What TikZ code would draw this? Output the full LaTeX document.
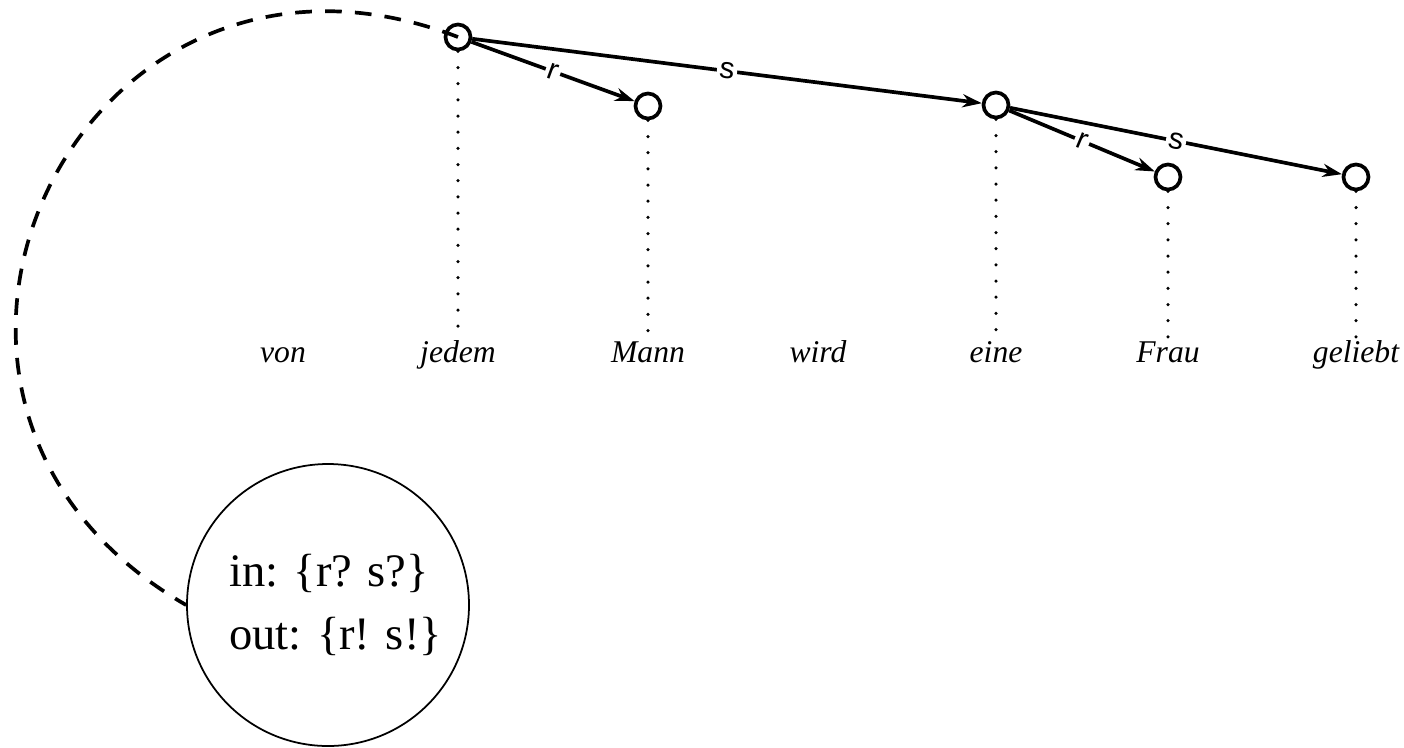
\documentclass[tikz,border=0pt]{standalone}
\usepackage{fontspec}
\setmainfont{Liberation Serif}
\setsansfont{Liberation Sans}
\usepackage{tikz}
\usetikzlibrary{arrows.meta, positioning}
\tikzset{
  tnode/.style={circle, draw, line width=2.1pt, minimum size=0.5cm, inner sep=0pt},
  word/.style={anchor=base, inner sep=1pt, font=\fontsize{18}{20}\selectfont\itshape},
  infobox/.style={circle, draw, line width=1pt, minimum size=5.64cm,
    align=left, font=\fontsize{26.5}{36}\selectfont},
  arrow/.style={-{Stealth[length=11pt, width=7.5pt]}, line width=2.1pt},
  lbl/.style={midway, sloped, fill=white, inner sep=1.5pt,
    font=\sffamily\fontsize{17}{19}\selectfont},
  proj/.style={line width=2pt, line cap=round, dash pattern=on 0pt off 9.2pt},
  loopline/.style={line width=2.1pt, dash pattern=on 9.5pt off 7.5pt}
}
\begin{document}
\begin{tikzpicture}
  \useasboundingbox (0,0) rectangle (28.08,-14.94);

  % Words
  \node[word] (wvon) at (5.66,-7.24) {von};
  \node[word] (wjedem) at (9.16,-7.24) {jedem};
  \node[word] (wmann) at (12.96,-7.24) {Mann};
  \node[word] (wwird) at (16.36,-7.24) {wird};
  \node[word] (weine) at (19.92,-7.24) {eine};
  \node[word] (wfrau) at (23.36,-7.24) {Frau};
  \node[word] (wgeliebt) at (27.12,-7.24) {geliebt};

  % Tree nodes
  \node[tnode] (jedem) at (9.16,-0.74) {};
  \node[tnode] (mann) at (12.96,-2.12) {};
  \node[tnode] (eine) at (19.92,-2.10) {};
  \node[tnode] (frau) at (23.36,-3.54) {};
  \node[tnode] (geliebt) at (27.12,-3.54) {};

  % Projection lines
  \draw[proj] (jedem.south) -- (wjedem.north);
  \draw[proj] (mann.south) -- (wmann.north);
  \draw[proj] (eine.south) -- (weine.north);
  \draw[proj] (frau.south) -- (wfrau.north);
  \draw[proj] (geliebt.south) -- (wgeliebt.north);

  % Dependencies
  \draw[arrow] (jedem) -- (mann) node[lbl] {r};
  \draw[arrow] (jedem) -- (eine) node[lbl] {s};
  \draw[arrow] (eine) -- (frau) node[lbl] {r};
  \draw[arrow] (eine) -- (geliebt) node[lbl] {s};

  % Valency info
  \node[infobox] (info) at (6.56,-12.10) {\hspace*{0.3cm}in: \{r? s?\}\\\hspace*{0.3cm}out: \{r! s!\}};
  \draw[loopline] (jedem.center) to[out=159, in=150, looseness=1.65] (info.west);
\end{tikzpicture}
\end{document}
